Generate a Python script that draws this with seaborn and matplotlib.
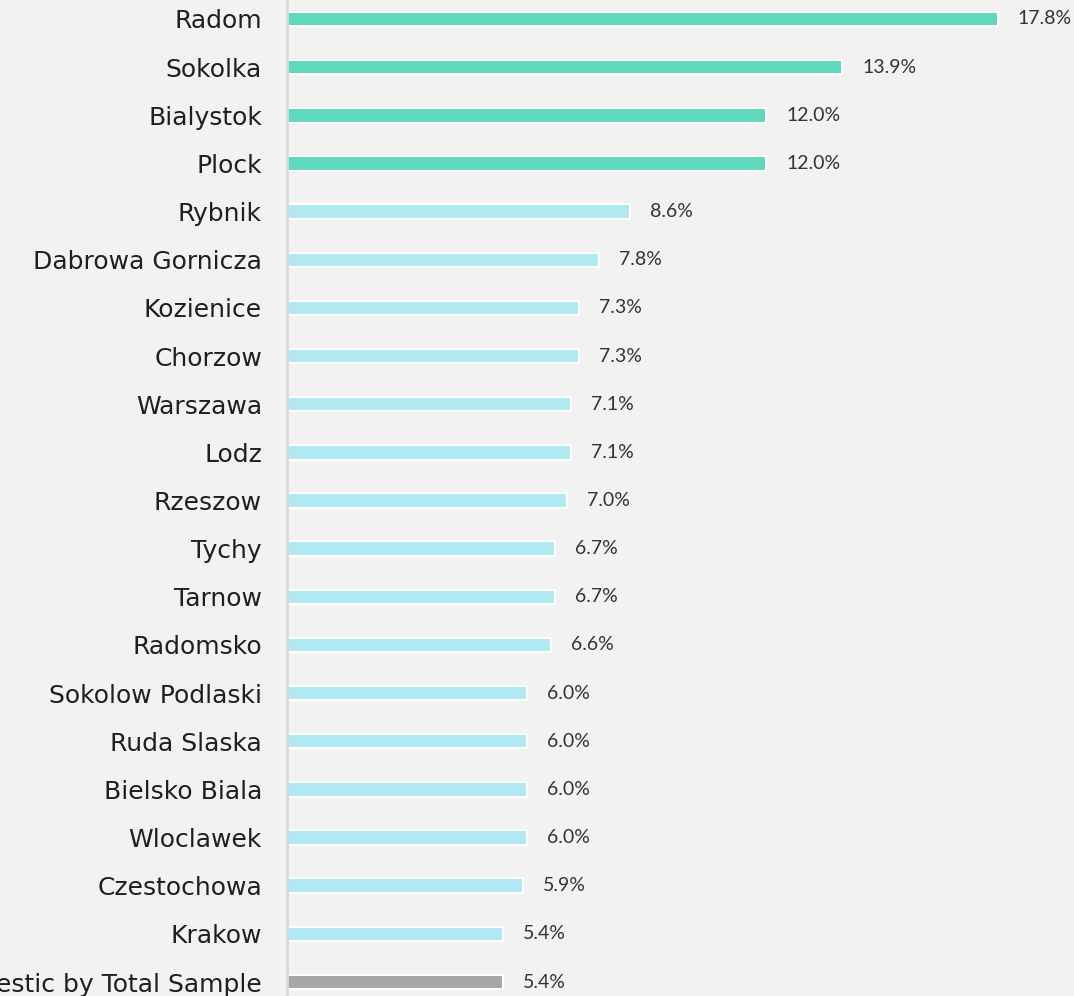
import matplotlib
matplotlib.use("Agg")
import matplotlib.pyplot as plt
import seaborn as sns
import pandas as pd

categories = ["Radom", "Sokolka", "Bialystok", "Plock", "Rybnik", "Dabrowa Gornicza",
              "Kozienice", "Chorzow", "Warszawa", "Lodz", "Rzeszow", "Tychy", "Tarnow",
              "Radomsko", "Sokolow Podlaski", "Ruda Slaska", "Bielsko Biala", "Wloclawek",
              "Czestochowa", "Krakow", "Domestic by Total Sample"]
values = [17.8, 13.9, 12.0, 12.0, 8.6, 7.8, 7.3, 7.3, 7.1, 7.1, 7.0, 6.7, 6.7,
          6.6, 6.0, 6.0, 6.0, 6.0, 5.9, 5.4, 5.4]
groups = ["top"] * 4 + ["other"] * 16 + ["total"]

palette = {"top": "#5fd9bd", "other": "#b0e9f2", "total": "#a6a6a6"}

df = pd.DataFrame({"city": categories, "value": values, "group": groups})

sns.set_theme(style="white")
plt.rcParams["font.family"] = ["DejaVu Sans"]

W, H = 1074, 996
fig = plt.figure(figsize=(W / 100, H / 100), dpi=100)
fig.patch.set_facecolor("#f2f2f2")
px_per = 39.94
xmax = 19.5
left = 287
top_px = 19 - 48.15 * 0.5
bot_px = 982 + 48.15 * 0.5
ax = fig.add_axes([left / W, (H - bot_px) / H, xmax * px_per / W, (bot_px - top_px) / H])
ax.set_facecolor("#f2f2f2")

sns.barplot(data=df, y="city", x="value", hue="group", palette=palette, dodge=False,
            saturation=1, width=0.3, edgecolor="white", linewidth=1.5, legend=False,
            ax=ax, orient="h")

for i, v in enumerate(values):
    ax.text(v + 0.5, i, f"{v:.1f}%", va="center", ha="left", fontsize=14,
            color="#333333", family=["Lato", "DejaVu Sans"])

ax.set_xlim(0, xmax)
ax.set_ylim(len(categories) - 0.5, -0.5)
ax.set_xlabel("")
ax.set_ylabel("")
ax.set_xticks([])
for s in ["top", "right", "bottom"]:
    ax.spines[s].set_visible(False)
ax.spines["left"].set_color("#d9d9d9")
ax.spines["left"].set_linewidth(2)
ax.tick_params(axis="y", length=0, pad=18, labelsize=18, labelcolor="#1f1f1f")

fig.savefig("out.png", dpi=100, facecolor=fig.get_facecolor())
